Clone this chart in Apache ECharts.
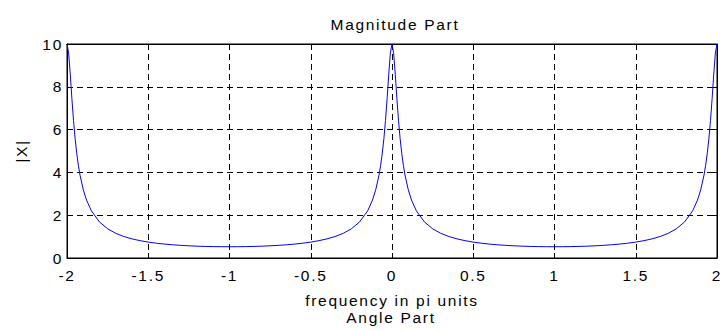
<!DOCTYPE html>
<html>
<head>
<meta charset="utf-8">
<script src="https://cdn.jsdelivr.net/npm/echarts@6/dist/echarts.min.js"></script>
<style>
html,body{margin:0;padding:0;background:#fff;}
#c{width:725px;height:331px;}
#c svg text{letter-spacing:1.7px;}
</style>
</head>
<body>
<div id="c"></div>
<script>
var frequency = [-2,-1.99,-1.98,-1.97,-1.96,-1.95,-1.94,-1.93,-1.92,-1.9,-1.88,-1.85,-1.8,-1.75,-1.7,-1.65,-1.6,-1.55,-1.5,-1.45,-1.4,-1.35,-1.3,-1.25,-1.2,-1.15,-1.1,-1.05,
 -1,-0.95,-0.9,-0.85,-0.8,-0.75,-0.7,-0.65,-0.6,-0.55,-0.5,-0.45,-0.4,-0.35,-0.3,-0.25,-0.2,-0.15,-0.12,-0.1,-0.08,-0.07,-0.06,-0.05,-0.04,-0.03,-0.02,-0.01,
 0,0.01,0.02,0.03,0.04,0.05,0.06,0.07,0.08,0.1,0.12,0.15,0.2,0.25,0.3,0.35,0.4,0.45,0.5,0.55,0.6,0.65,0.7,0.75,0.8,0.85,0.9,0.95,
 1,1.05,1.1,1.15,1.2,1.25,1.3,1.35,1.4,1.45,1.5,1.55,1.6,1.65,1.7,1.75,1.8,1.85,1.88,1.9,1.92,1.93,1.94,1.95,1.96,1.97,1.98,1.99,2];
var magnitude = [10,9.583,8.590,7.456,6.429,5.576,4.886,4.329,3.876,3.193,2.708,2.202,1.681,1.364,1.153,1.004,0.893,0.809,0.743,0.691,0.650,0.617,0.590,0.570,0.553,0.541,0.533,0.528,
 0.526,0.528,0.533,0.541,0.553,0.570,0.590,0.617,0.650,0.691,0.743,0.809,0.893,1.004,1.153,1.364,1.681,2.202,2.708,3.193,3.876,4.329,4.886,5.576,6.429,7.456,8.590,9.583,
 10,9.583,8.590,7.456,6.429,5.576,4.886,4.329,3.876,3.193,2.708,2.202,1.681,1.364,1.153,1.004,0.893,0.809,0.743,0.691,0.650,0.617,0.590,0.570,0.553,0.541,0.533,0.528,
 0.526,0.528,0.533,0.541,0.553,0.570,0.590,0.617,0.650,0.691,0.743,0.809,0.893,1.004,1.153,1.364,1.681,2.202,2.708,3.193,3.876,4.329,4.886,5.576,6.429,7.456,8.590,9.583,10];
var titleText = 'Magnitude Part';
var xName = 'frequency in pi units';
var yName = '|X|';
var nextTitle = 'Angle Part';

var pts = frequency.map(function(f,i){return [f, magnitude[i]];});
var font = 'Liberation Sans, Arial, sans-serif';
var fs = 15.5;
var chart = echarts.init(document.getElementById('c'), null, {renderer:'svg'});
var gridLine = {show:true, lineStyle:{color:'#000', width:1, type:[6,4]}};
chart.setOption({
  animation:false,
  backgroundColor:'#fff',
  title:{text:titleText, left:390, top:11, textAlign:'center',
    textStyle:{fontFamily:font, fontSize:fs, fontWeight:'normal', color:'#000'}},
  grid:{left:67, right:8, top:44, bottom:73, show:true, borderColor:'#000', borderWidth:1, containLabel:false},
  xAxis:[{type:'value', min:-2, max:2, interval:0.5,
    axisLine:{show:true, onZero:false, lineStyle:{color:'#000', width:1}},
    axisTick:{show:true, inside:true, length:5, lineStyle:{color:'#000'}},
    axisLabel:{color:'#000', fontFamily:font, fontSize:fs, margin:9},
    splitLine:gridLine,
    name:xName, nameLocation:'middle', nameGap:34,
    nameTextStyle:{color:'#000', fontFamily:font, fontSize:fs}},
   {type:'value', min:-2, max:2, interval:0.5, position:'top',
    axisLine:{show:true, onZero:false, lineStyle:{color:'#000'}},
    axisTick:{show:true, inside:true, length:5, lineStyle:{color:'#000'}},
    axisLabel:{show:false}, splitLine:{show:false}}],
  yAxis:[{type:'value', min:0, max:10, interval:2,
    axisLine:{show:true, onZero:false, lineStyle:{color:'#000', width:1}},
    axisTick:{show:true, inside:true, length:5, lineStyle:{color:'#000'}},
    axisLabel:{color:'#000', fontFamily:font, fontSize:fs, margin:4},
    splitLine:gridLine,
    name:yName, nameLocation:'middle', nameGap:38,
    nameTextStyle:{color:'#000', fontFamily:font, fontSize:fs}},
   {type:'value', min:0, max:10, interval:2, position:'right',
    axisLine:{show:true, onZero:false, lineStyle:{color:'#000'}},
    axisTick:{show:true, inside:true, length:5, lineStyle:{color:'#000'}},
    axisLabel:{show:false}, splitLine:{show:false}}],
  graphic:[{type:'text', x:391, y:309,
    style:{text:nextTitle, fill:'#000', font:fs+'px '+font, textAlign:'center', textVerticalAlign:'top'}}],
  series:[{type:'line', data:pts, showSymbol:false, symbol:'none',
    lineStyle:{color:'#0000ff', width:1}, z:5}]
});
</script>
</body>
</html>
